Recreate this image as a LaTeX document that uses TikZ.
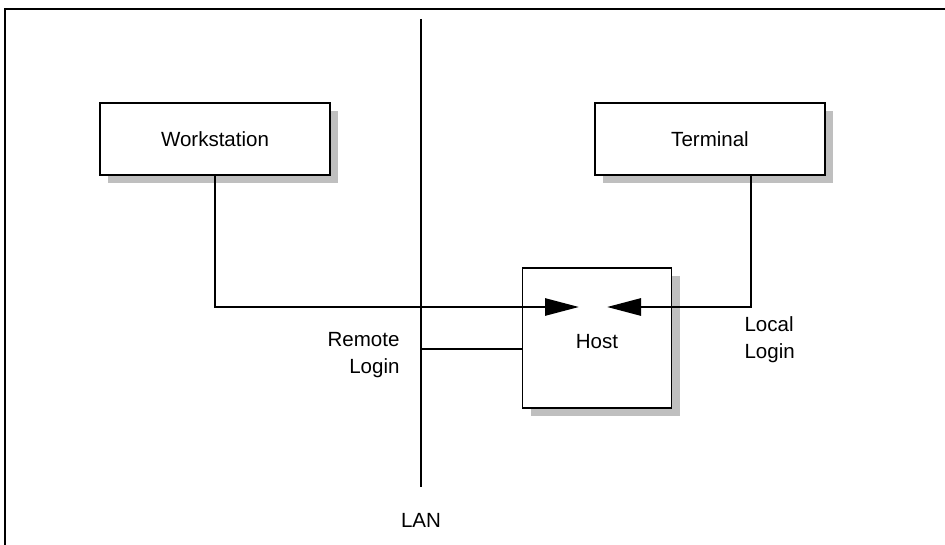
\documentclass[tikz,border=0pt]{standalone}
\usepackage{fontspec}
\setmainfont{Liberation Sans}
\usetikzlibrary{arrows.meta, positioning, shadows}

\begin{document}
\begin{tikzpicture}[x=1bp, y=-1bp,
    every node/.style={font=\fontsize{20.6}{27}\selectfont},
    box/.style={draw, line width=1.5bp, fill=white, inner sep=0pt,
      drop shadow={shadow xshift=8bp, shadow yshift=-8bp, fill=black!25, opacity=1}},
    wire/.style={line width=2.8bp},
    login/.style={wire, -{Triangle[length=34bp, width=17bp]}}]
  \useasboundingbox (0,0) rectangle (945,545);
  % frame
  \draw[line width=1.5bp] (945,9) -- (5,9) -- (5,545);
  % the LAN
  \coordinate (lantop) at (421,19);
  \coordinate (lanbot) at (421,487);
  \draw[wire] (lantop) -- (lanbot);
  \node (lan) at (421,520) {LAN};
  % machines
  \node[box, minimum width=230bp, minimum height=72bp] (ws) at (215,139) {Workstation};
  \node[box, minimum width=230bp, minimum height=72bp] (term) at (710,139) {Terminal};
  \node[box, minimum width=149bp, minimum height=140bp] (host) at (597,338) {};
  \node (hostlbl) at (597,342) {Host};
  % logins into the host
  \coordinate (wsin) at (579,307);
  \coordinate (termbend) at (751,307);
  \coordinate (termin) at (607,307);
  \draw[login] (ws.south) |- (wsin);
  \draw[login] (term.south -| termbend) -- (termbend) -- (termin);
  \coordinate (rl) at (421,349);
  \draw[wire] (rl) -- (rl -| host.west);
  \node[anchor=east, align=right] (remote) at (403,355) {Remote\\Login};
  \node[anchor=west, align=left] (local) at (741,340) {Local\\Login};
\end{tikzpicture}
\end{document}
